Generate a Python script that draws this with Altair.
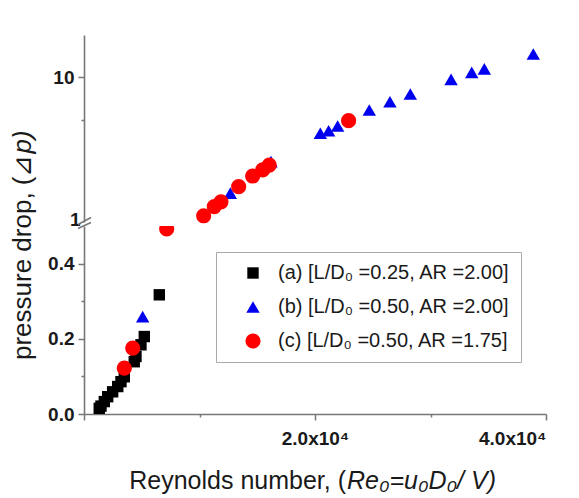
import altair as alt
import pandas as pd

# Reynolds number (Re0) and pressure drop (dp) for each nozzle configuration
re_a = [1320, 1470, 1760, 2050, 2480, 2920, 3200, 3490, 4350, 4500, 4930, 5220, 6520]
dp_a = [0.015, 0.021, 0.033, 0.046, 0.059, 0.073, 0.086, 0.099, 0.139, 0.153, 0.184, 0.206, 0.317]

re_b = [5080, 12670, 16190, 20460, 21180, 21960, 24700, 26490, 28250, 31780, 33570, 34660, 38900]
dp_b = [0.259, 1.54, 2.56, 4.04, 4.21, 4.54, 5.88, 6.71, 7.61, 9.63, 10.78, 11.4, 14.5]

re_c = [3490, 4220, 7160, 10360, 11280, 11860, 13390, 14600, 15470, 16040, 22910]
dp_c = [0.122, 0.175, 0.492, 1.07, 1.24, 1.34, 1.71, 2.03, 2.24, 2.42, 4.95]

series_labels = [
    "(a) [L/D\u2080 =0.25, AR =2.00]",
    "(b) [L/D\u2080 =0.50, AR =2.00]",
    "(c) [L/D\u2080 =0.50, AR =1.75]",
]
series_colors = ["#000000", "#0000f0", "#ff0000"]
series_shapes = ["square", "triangle-up", "circle"]
series_sizes = [130, 230, 215]

rows = []
for label, res, dps in zip(series_labels, [re_a, re_b, re_c], [dp_a, dp_b, dp_c]):
    for r, d in zip(res, dps):
        rows.append({"series": label, "re": r, "dp": d})
df = pd.DataFrame(rows)

FONT = "Liberation Sans"
AXIS_GRAY = "#777777"
TEXT = "#1a1a1a"

axis_style = dict(
    domainColor=AXIS_GRAY, domainWidth=1.6, tickColor=AXIS_GRAY, tickWidth=1.5,
    labelColor=TEXT, labelFont=FONT, labelFontSize=19, labelFontWeight="bold",
    grid=False, title=None,
)

x_scale = alt.Scale(domain=[0, 40000], nice=False)


def series_encodings(legend):
    return dict(
        color=alt.Color("series:N", scale=alt.Scale(domain=series_labels, range=series_colors), legend=legend),
        shape=alt.Shape("series:N", scale=alt.Scale(domain=series_labels, range=series_shapes), legend=legend),
        size=alt.Size("series:N", scale=alt.Scale(domain=series_labels, range=series_sizes), legend=legend),
    )


# Upper segment: logarithmic pressure-drop axis
top = alt.Chart(df).transform_filter("datum.dp >= 0.9").mark_point(
    filled=True, opacity=1, strokeWidth=0
).encode(
    x=alt.X("re:Q", scale=x_scale, axis=None),
    y=alt.Y(
        "dp:Q",
        scale=alt.Scale(type="log", domain=[0.968, 19.67], nice=False),
        axis=alt.Axis(
            values=[1, 5, 10],
            labelExpr="datum.value == 1 ? '1' : datum.value == 10 ? '10' : ''",
            tickSize={"condition": [{"test": "datum.value == 5", "value": 3},
                                    {"test": "datum.value == 1", "value": 0}], "value": 6},
            labelPadding=4,
            **axis_style,
        ),
    ),
    **series_encodings(None),
).properties(width=462, height=187)

legend = alt.Legend(
    title=None, orient="none", legendX=132, legendY=26,
    strokeColor="#aaaaaa", fillColor="white", padding=11,
    labelFont=FONT, labelFontSize=20, labelColor=TEXT, labelLimit=500,
    symbolOffset=16, labelOffset=15, rowPadding=14, symbolStrokeWidth=0,
)

# Lower segment: linear pressure-drop axis with the Reynolds-number axis
bottom_points = alt.Chart(df).transform_filter("datum.dp < 0.5").mark_point(
    filled=True, opacity=1, strokeWidth=0, clip=True
).encode(
    x=alt.X(
        "re:Q", scale=x_scale,
        axis=alt.Axis(
            values=[0, 10000, 20000, 30000, 40000],
            labelExpr="datum.value == 20000 ? '2.0x10\u2074' : datum.value == 40000 ? '4.0x10\u2074' : ''",
            tickSize={"condition": {"test": "datum.value % 20000 === 0", "value": 6}, "value": 3},
            labelPadding=9,
            **axis_style,
        ),
    ),
    y=alt.Y(
        "dp:Q",
        scale=alt.Scale(domain=[0, 0.5], nice=False),
        axis=alt.Axis(
            values=[0, 0.1, 0.2, 0.3, 0.4],
            labelExpr="round(datum.value * 10) % 2 == 0 ? format(datum.value, '.1f') : ''",
            tickSize={"condition": {"test": "round(datum.value * 10) % 2 == 0", "value": 6}, "value": 3},
            labelPadding=4,
            **axis_style,
        ),
    ),
    **series_encodings(legend),
).properties(width=462, height=188)

one = pd.DataFrame({"k": [0]})

# Axis-break slashes where the two segments meet
break_1 = alt.Chart(one).mark_rule(color=AXIS_GRAY, strokeWidth=1.5).encode(
    x=alt.value(-6), x2=alt.value(7), y=alt.value(-1.5), y2=alt.value(-8.5)
)
break_2 = alt.Chart(one).mark_rule(color=AXIS_GRAY, strokeWidth=1.5).encode(
    x=alt.value(-6), x2=alt.value(7), y=alt.value(2.5), y2=alt.value(-3.5)
)

# Axis titles with italic symbols
x_title_a = alt.Chart(one).mark_text(
    text="Reynolds number, (", font=FONT, fontSize=25, color=TEXT, align="right", baseline="alphabetic"
).encode(x=alt.value(262), y=alt.value(263))
x_title_b = alt.Chart(one).mark_text(
    text="Re\u2080=u\u2080D\u2080/ V)", font=FONT, fontSize=25, fontStyle="italic", color=TEXT,
    align="left", baseline="alphabetic"
).encode(x=alt.value(263), y=alt.value(263))

y_title_a = alt.Chart(one).mark_text(
    text="pressure drop, (\u22bf", font=FONT, fontSize=26, color=TEXT, angle=270,
    align="right", baseline="alphabetic"
).encode(x=alt.value(-53), y=alt.value(-71.5))
y_title_b = alt.Chart(one).mark_text(
    text="p)", font=FONT, fontSize=26, fontStyle="italic", color=TEXT, angle=270,
    align="left", baseline="alphabetic"
).encode(x=alt.value(-53), y=alt.value(-72.5))

bottom = alt.layer(bottom_points, break_1, break_2, x_title_a, x_title_b, y_title_a, y_title_b)

chart = alt.vconcat(top, bottom, spacing=4, bounds="flush").resolve_scale(
    x="independent", y="independent"
).resolve_legend(
    color="independent", shape="independent", size="independent"
).properties(
    padding={"left": 10, "top": 35, "right": 5, "bottom": 5},
    background="white",
).configure_view(stroke=None)

chart.save("out.html", embed_options={"renderer": "svg", "actions": False})
